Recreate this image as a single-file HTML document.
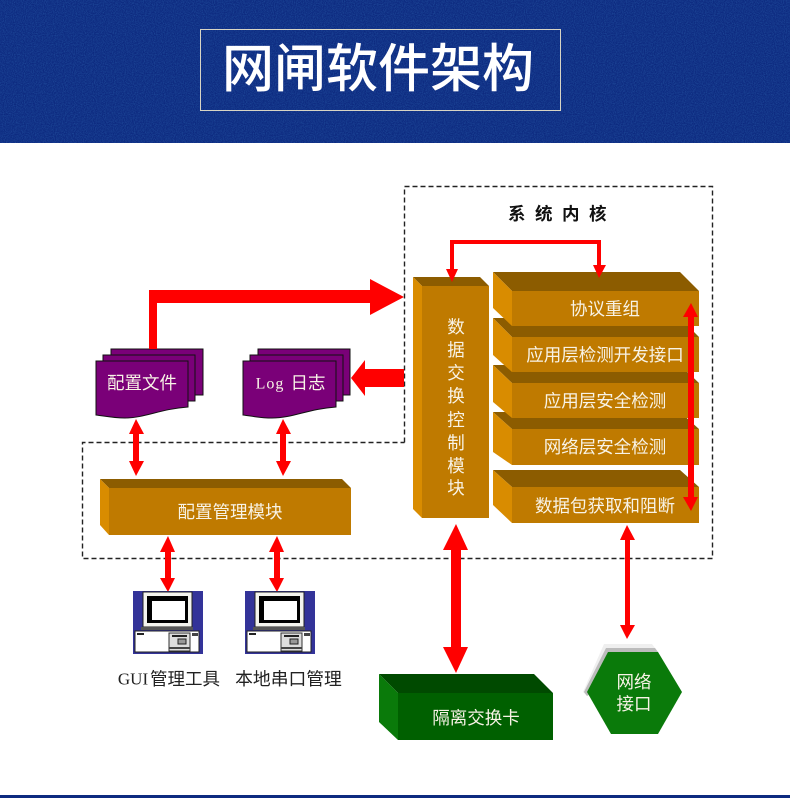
<!DOCTYPE html>
<html><head><meta charset="utf-8">
<style>
html,body{margin:0;padding:0;background:#fff;width:790px;height:798px;overflow:hidden}
svg{display:block}
text{font-family:"Liberation Sans","Noto Sans CJK SC",sans-serif;text-anchor:middle;dominant-baseline:central}
.w{fill:#f8f3e6;font-size:17.5px}
.k{fill:#222;font-size:17.5px}
</style></head><body>
<svg width="790" height="798" viewBox="0 0 790 798" xmlns="http://www.w3.org/2000/svg">
<defs>
<filter id="noise" x="0" y="0" width="100%" height="100%">
<feTurbulence type="fractalNoise" baseFrequency="0.9" numOctaves="2" seed="4"/>
<feColorMatrix values="0 0 0 0 0.02  0 0 0 0 0.10  0 0 0 0 0.38  0 0 0 1.2 -0.4"/>
</filter>
<g id="pc">
<rect x="0" y="0" width="70" height="63" fill="#333399"/>
<rect x="10" y="1" width="49" height="35" fill="#f4f4ee" stroke="#222" stroke-width="1"/>
<rect x="14" y="5" width="41" height="27" fill="#000"/>
<rect x="19" y="10" width="33" height="19" fill="#fff"/>
<rect x="8" y="36" width="52" height="3" fill="#555"/>
<rect x="2" y="40" width="64" height="21" fill="#fff" stroke="#222" stroke-width="1"/>
<rect x="4" y="42" width="7" height="2" fill="#222"/>
<rect x="36" y="42" width="21" height="18" fill="#ddd" stroke="#333" stroke-width="1"/>
<rect x="39" y="44" width="15" height="2" fill="#222"/>
<rect x="45" y="48" width="8" height="5" fill="#999" stroke="#222" stroke-width="1"/>
<rect x="36" y="56" width="21" height="2" fill="#444"/>
<rect x="59" y="42" width="6" height="3" fill="#444"/>
</g>
</defs>

<!-- header -->
<rect x="0" y="0" width="790" height="143" fill="#0d2a80"/>
<rect x="0" y="0" width="790" height="143" filter="url(#noise)"/>
<rect x="200.500" y="29.500" width="360" height="81" fill="none" stroke="#d8d4c4" stroke-width="1"/>
<text x="378" y="70" style="font-size:52px;font-weight:500;fill:#fff">网闸软件架构</text>
<rect x="0" y="795" width="790" height="3" fill="#0d2a80"/>

<!-- dashed outline -->
<path d="M404.500 442.500V186.500H712.500V558.500H82.500V442.500H404.500" fill="none" stroke="#222" stroke-width="1.4" stroke-dasharray="5 3"/>

<text x="562" y="214" style="font-weight:700;font-size:17.5px;letter-spacing:9.5px;fill:#111">系统内核</text>

<!-- data exchange block -->
<polygon points="413,277 480,277 489,286 422,286" fill="#8c5c00"/>
<polygon points="413,277 422,286 422,518 413,509" fill="#d98c00"/>
<rect x="422" y="286" width="67" height="232" fill="#bf7a00"/>
<text x="456" y="327" class="w">数</text>
<text x="456" y="350" class="w">据</text>
<text x="456" y="373" class="w">交</text>
<text x="456" y="396" class="w">换</text>
<text x="456" y="420" class="w">控</text>
<text x="456" y="443" class="w">制</text>
<text x="456" y="466" class="w">模</text>
<text x="456" y="488" class="w">块</text>

<!-- stack: drawn bottom to top -->
<g>
<polygon points="493,470 680,470 699,487 512,487" fill="#8c5c00"/>
<polygon points="493,470 512,487 512,523 493,505" fill="#d98c00"/>
<rect x="512" y="487" width="187" height="36" fill="#bf7a00"/>

<polygon points="493,412 680,412 699,429 512,429" fill="#8c5c00"/>
<polygon points="493,412 512,429 512,465 493,452" fill="#d98c00"/>
<rect x="512" y="429" width="187" height="36" fill="#bf7a00"/>

<polygon points="493,365 680,365 699,383 512,383" fill="#8c5c00"/>
<polygon points="493,365 512,383 512,418 493,402" fill="#d98c00"/>
<rect x="512" y="383" width="187" height="35" fill="#bf7a00"/>

<polygon points="493,318 680,318 699,337 512,337" fill="#8c5c00"/>
<polygon points="493,318 512,337 512,372 493,355" fill="#d98c00"/>
<rect x="512" y="337" width="187" height="35" fill="#bf7a00"/>

<polygon points="493,272 680,272 699,291 512,291" fill="#8c5c00"/>
<polygon points="493,272 512,291 512,326 493,308" fill="#d98c00"/>
<rect x="512" y="291" width="187" height="35" fill="#bf7a00"/>
</g>
<text x="605" y="309" class="w">协议重组</text>
<text x="605" y="355" class="w">应用层检测开发接口</text>
<text x="605" y="401" class="w">应用层安全检测</text>
<text x="605" y="447" class="w">网络层安全检测</text>
<text x="605" y="506" class="w">数据包获取和阻断</text>

<!-- config block -->
<polygon points="100,479 342,479 351,488 109,488" fill="#8c5c00"/>
<polygon points="100,479 109,488 109,535 100,525" fill="#d98c00"/>
<rect x="109" y="488" width="242" height="47" fill="#bf7a00"/>
<text x="230" y="512" class="w">配置管理模块</text>

<!-- documents -->
<g fill="#7a0078" stroke="#111" stroke-width="1">
<rect x="111" y="349" width="92" height="46"/>
<rect x="103" y="355" width="92" height="46"/>
<path d="M96 361H188V407C160 409 145 418 125 418C113 418 104 416 96 415Z"/>
<rect x="258" y="349" width="92" height="46"/>
<rect x="250" y="355" width="93" height="46"/>
<path d="M243 361H336V407C308 409 293 418 272 418C260 418 251 416 243 415Z"/>
</g>
<text x="142" y="383" class="w">配置文件</text>
<text x="270" y="384" style="font-family:'Liberation Serif',serif;font-size:16px;fill:#f8f3e6;letter-spacing:1px">Log</text>
<text x="308" y="383" class="w">日志</text>

<!-- red connectors -->
<g fill="#ff0000">
<polygon points="149,349 149,290 370,290 370,279 404,297 370,315 370,303 157,303 157,349"/>
<polygon points="351,378 365,360 365,369 404,369 404,387 365,387 365,396"/>
<polygon points="136,419 144,434 139,434 139,461 144,461 136,476 129,461 133,461 133,434 129,434"/>
<polygon points="283,419 291,434 286,434 286,461 291,461 283,476 276,461 280,461 280,434 276,434"/>
<polygon points="168,536 175,552 171,552 171,578 175,578 168,592 160,578 165,578 165,552 160,552"/>
<polygon points="277,536 284,552 280,552 280,578 284,578 277,592 269,578 274,578 274,552 269,552"/>
<polygon points="450,269 450,240 601,240 601,265 606,265 599,278 593,265 597,265 597,244 454,244 454,269 458,269 452,282 446,269"/>
<polygon points="691,303 698,317 694,317 694,497 698,497 691,511 683,497 688,497 688,317 683,317"/>
<polygon points="456,524 468,550 461,550 461,647 468,647 456,673 443,647 451,647 451,550 443,550"/>
<polygon points="627,525 635,540 630,540 630,625 635,625 627,639 620,625 625,625 625,540 620,540"/>
</g>

<!-- computers -->
<use href="#pc" x="133" y="591"/>
<use href="#pc" x="245" y="591"/>
<text x="133" y="679" style="font-family:'Liberation Serif',serif;font-size:17px;fill:#222">GUI</text>
<text x="185" y="679" class="k" style="font-size:17.5px">管理工具</text>
<text x="288.500" y="679" class="k" style="font-size:17.8px">本地串口管理</text>

<!-- isolation card -->
<polygon points="379,674 534,674 553,693 398,693" fill="#004a00"/>
<polygon points="379,674 398,693 398,740 379,722" fill="#0a7a0a"/>
<rect x="398" y="693" width="155" height="47" fill="#006000"/>
<text x="476" y="718" class="w">隔离交换卡</text>

<!-- hexagon: shadow only on the upper-left edge -->
<polygon points="583,692 604,644 652,644 658,652 587,696" fill="#efefef"/>
<polygon points="584,692 606,648 655,648 658,652 587,696" fill="#bcbcbc"/>
<polygon points="587,692 608,652 658,652 682,692 658,734 611,734" fill="#0a7a0a"/>
<text x="634" y="682" class="w">网络</text>
<text x="634" y="704" class="w">接口</text>
</svg>
</body></html>
